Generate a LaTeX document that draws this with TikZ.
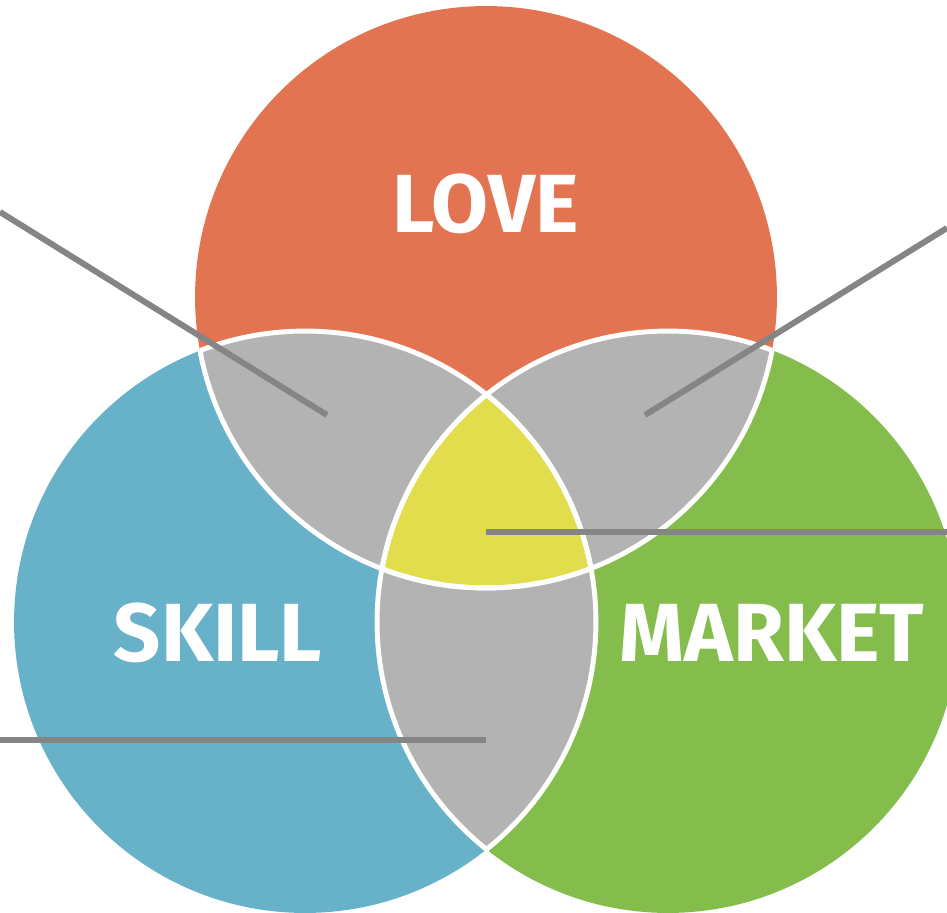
\documentclass[tikz,border=0pt]{standalone}
\usepackage{fontspec}
\setmainfont{Fira Sans}
\definecolor{loveC}{HTML}{E37452}
\definecolor{skillC}{HTML}{67B2C9}
\definecolor{marketC}{HTML}{84BD4C}
\definecolor{overlapC}{HTML}{B3B3B3}
\definecolor{coreC}{HTML}{E1DD4C}
\definecolor{leaderC}{HTML}{858585}
\begin{document}
\begin{tikzpicture}[
  x=0.02cm, y=-0.02cm,
  lbl/.style={text=white, font=\bfseries\fontsize{47}{50}\selectfont},
  rim/.style={draw=white, line width=2.8pt},
  leader/.style={draw=leaderC, line width=3.4pt}
]

% --- canvas ---
\useasboundingbox (0,0) rectangle (947,913);
\clip (0,0) rectangle (947,913);

% --- circle centres ---
\coordinate (love)   at (486,297);
\coordinate (skill)  at (305,622);
\coordinate (market) at (668,622);
\def\rad{5.82cm}

% --- circles ---
\fill[loveC]   (love)   circle[radius=\rad];
\fill[skillC]  (skill)  circle[radius=\rad];
\fill[marketC] (market) circle[radius=\rad];

% --- pairwise overlaps ---
\begin{scope}
  \clip (love) circle[radius=\rad];
  \fill[overlapC] (skill)  circle[radius=\rad];
  \fill[overlapC] (market) circle[radius=\rad];
\end{scope}
\begin{scope}
  \clip (skill) circle[radius=\rad];
  \fill[overlapC] (market) circle[radius=\rad];
\end{scope}

% --- centre overlap ---
\begin{scope}
  \clip (love) circle[radius=\rad];
  \clip (skill) circle[radius=\rad];
  \fill[coreC] (market) circle[radius=\rad];
\end{scope}

% --- white rims inside the overlaps ---
\begin{scope}
  \clip (love) circle[radius=\rad];
  \draw[rim] (skill)  circle[radius=\rad];
  \draw[rim] (market) circle[radius=\rad];
\end{scope}
\begin{scope}
  \clip (skill) circle[radius=\rad];
  \draw[rim] (love)   circle[radius=\rad];
  \draw[rim] (market) circle[radius=\rad];
\end{scope}
\begin{scope}
  \clip (market) circle[radius=\rad];
  \draw[rim] (love)  circle[radius=\rad];
  \draw[rim] (skill) circle[radius=\rad];
\end{scope}

% --- leader lines ---
\coordinate (loveSkillOut)    at (0,212);
\coordinate (loveSkillIn)     at (327,415);
\coordinate (loveMarketOut)   at (947,228);
\coordinate (loveMarketIn)    at (645,415);
\coordinate (coreOut)         at (947,532);
\coordinate (coreIn)          at (486,532);
\coordinate (skillMarketOut)  at (0,740);
\coordinate (skillMarketIn)   at (486,740);

\draw[leader] (loveSkillOut) -- (loveSkillIn);
\draw[leader] (loveMarketOut) -- (loveMarketIn);
\draw[leader] (coreIn) -- (coreOut);
\draw[leader] (skillMarketOut) -- (skillMarketIn);

% --- labels ---
\node[lbl] (loveL)   at (486,204) {LOVE};
\node[lbl] (skillL)  at (218,633) {SKILL};
\node[lbl] (marketL) at (772,633) {MARKET};

\end{tikzpicture}
\end{document}
